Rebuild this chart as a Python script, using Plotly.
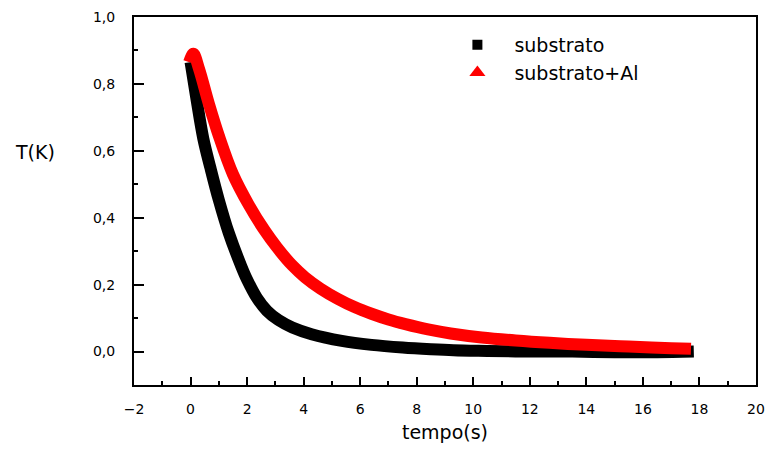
import plotly.graph_objects as go

# substrato (black)
t_sub = [0.0, 0.2, 0.45, 0.7, 1.0, 1.35, 1.79, 2.0, 2.35, 2.7, 3.11, 3.6, 4.28, 5.35,
         6.4, 7.5, 8.5, 9.3, 10.5, 12.0, 13.5, 15.0, 16.5, 17.8]
v_sub = [0.865, 0.76, 0.637, 0.55, 0.453, 0.355, 0.256, 0.215, 0.16, 0.122, 0.094, 0.072,
         0.052, 0.032, 0.02, 0.012, 0.007, 0.004, 0.002, 0.0, 0.0, -0.002, -0.002, 0.0]

# substrato+Al (red)
t_al = [-0.05, 0.1, 0.3, 0.65, 1.0, 1.5, 2.05, 2.62, 3.05, 3.59, 4.05, 4.6, 5.2, 5.8,
        6.4, 7.0, 7.6, 8.4, 9.2, 10.3, 11.5, 12.7, 14.0, 15.2, 16.3, 17.0, 17.7]
v_al = [0.865, 0.89, 0.845, 0.74, 0.645, 0.53, 0.44, 0.362, 0.312, 0.258, 0.222, 0.188,
        0.158, 0.133, 0.113, 0.096, 0.082, 0.066, 0.054, 0.042, 0.033, 0.026, 0.02, 0.016,
        0.012, 0.01, 0.008]

series_names = ["substrato", "substrato+Al"]
x_ticks = list(range(-2, 21, 2))
y_ticks = [0.0, 0.2, 0.4, 0.6, 0.8, 1.0]

FONT = "DejaVu Sans"

fig = go.Figure()
fig.add_trace(go.Scatter(x=t_sub, y=v_sub, mode="lines", showlegend=False,
                         line=dict(color="black", width=12, shape="spline")))
fig.add_trace(go.Scatter(x=t_al, y=v_al, mode="lines", showlegend=False,
                         line=dict(color="#ff0000", width=12, shape="spline")))
# legend entries
fig.add_trace(go.Scatter(x=[None], y=[None], mode="markers", name=series_names[0],
                         marker=dict(symbol="square", color="black", size=10)))
fig.add_trace(go.Scatter(x=[None], y=[None], mode="markers", name=series_names[1],
                         marker=dict(symbol="triangle-up", color="#ff0000", size=14)))

axis_common = dict(showline=True, linecolor="black", linewidth=2, mirror=True,
                   ticks="inside", tickcolor="black", tickwidth=2,
                   showgrid=False, zeroline=False, automargin=False,
                   tickfont=dict(family=FONT, size=14, color="black"))

fig.update_xaxes(range=[-2, 20], tickvals=x_ticks, ticklen=8,
                 minor=dict(ticks="inside", dtick=1, tick0=-2, ticklen=4, tickwidth=2,
                            tickcolor="black"),
                 ticklabelstandoff=10,
                 title=dict(text="tempo(s)", font=dict(family=FONT, size=19, color="black"),
                            standoff=10),
                 **axis_common)
fig.update_yaxes(range=[-0.1, 1.0], tickvals=y_ticks, tickformat=".1f", ticklen=10,
                 minor=dict(ticks="inside", dtick=0.1, tick0=0, ticklen=4, tickwidth=2,
                            tickcolor="black"),
                 ticklabelstandoff=14,
                 **axis_common)

fig.add_annotation(text="T(K)", xref="paper", yref="paper", x=-0.159, y=0.633,
                   xanchor="center", yanchor="middle", showarrow=False,
                   font=dict(family=FONT, size=19, color="black"))

fig.update_layout(
    width=766, height=449,
    margin=dict(l=134, r=10, t=17, b=64),
    paper_bgcolor="white", plot_bgcolor="white",
    separators=", ",
    font=dict(family=FONT, color="black"),
    legend=dict(x=0.4926, y=0.976, xanchor="left", yanchor="top",
                bgcolor="rgba(0,0,0,0)", itemwidth=64,
                font=dict(family=FONT, size=19, color="black")),
)

fig.write_html("out.html", config={"displayModeBar": False},
               post_script="document.body.style.margin='0';document.body.style.padding='0';")
